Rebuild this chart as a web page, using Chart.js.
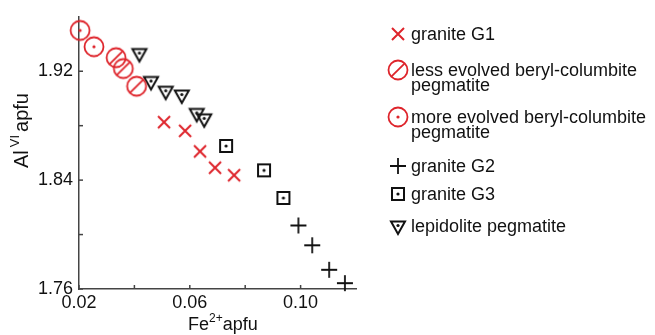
<!DOCTYPE html>
<html>
<head>
<meta charset="utf-8">
<script src="https://cdn.jsdelivr.net/npm/chart.js@4.4.0/dist/chart.umd.min.js"></script>
<style>
  html, body { margin: 0; padding: 0; background: #fff; }
  #wrap { width: 655px; height: 335px; }
</style>
</head>
<body>
<div id="wrap"><canvas id="chart" width="655" height="335"></canvas></div>
<script>
// data
const seriesNames = ['granite G1', 'less evolved beryl-columbite|pegmatite', 'more evolved beryl-columbite|pegmatite',
                     'granite G2', 'granite G3', 'lepidolite pegmatite'];
const g1Fe = [0.0507, 0.0583, 0.0637, 0.0691, 0.0760];
const g1Al = [1.8826, 1.8762, 1.8611, 1.8491, 1.8436];
const lessFe = [0.0334, 0.0360, 0.0408];
const lessAl = [1.9300, 1.9220, 1.9090];
const moreFe = [0.0204, 0.0254];
const moreAl = [1.9500, 1.9380];
const g2Fe = [0.0992, 0.1042, 0.1103, 0.1160];
const g2Al = [1.8067, 1.7921, 1.7741, 1.7643];
const g3Fe = [0.0731, 0.0868, 0.0938];
const g3Al = [1.8651, 1.8472, 1.8269];
const lepFe = [0.0418, 0.0460, 0.0513, 0.0571, 0.0625, 0.0652];
const lepAl = [1.9330, 1.9125, 1.9053, 1.9025, 1.8890, 1.8850];

const xTicks = [0.02, 0.04, 0.06, 0.08, 0.10];
const xLabels = [0.02, 0.06, 0.10];
const yTicks = [1.76, 1.80, 1.84, 1.88, 1.92];
const yLabels = [1.76, 1.84, 1.92];

const RED = '#de242b';
const BLACK = '#111';
const AXIS = '#444';
const FONT = '"Liberation Sans", Arial, sans-serif';

// marker images
function makeMarker(kind) {
    const c = document.createElement('canvas');
    c.width = 24; c.height = 24;
    const g = c.getContext('2d');
    const m = 12;
    g.lineWidth = 2;
    if (kind === 'x') {
        g.strokeStyle = RED;
        g.beginPath();
        g.moveTo(m - 6, m - 6); g.lineTo(m + 6, m + 6);
        g.moveTo(m + 6, m - 6); g.lineTo(m - 6, m + 6);
        g.stroke();
    } else if (kind === 'slash' || kind === 'odot') {
        g.strokeStyle = RED;
        g.fillStyle = RED;
        g.lineWidth = 1.8;
        g.beginPath();
        g.arc(m, m, 9.5, 0, Math.PI * 2);
        g.stroke();
        if (kind === 'slash') {
            g.beginPath();
            g.moveTo(m - 6.7, m + 6.7); g.lineTo(m + 6.7, m - 6.7);
            g.stroke();
        } else {
            g.beginPath();
            g.arc(m, m, 1.6, 0, Math.PI * 2);
            g.fill();
        }
    } else if (kind === 'plus') {
        g.strokeStyle = BLACK;
        g.lineWidth = 1.8;
        g.beginPath();
        g.moveTo(m - 8, m); g.lineTo(m + 8, m);
        g.moveTo(m, m - 8); g.lineTo(m, m + 8);
        g.stroke();
    } else if (kind === 'square') {
        g.strokeStyle = BLACK;
        g.fillStyle = BLACK;
        g.strokeRect(m - 6, m - 6, 12, 12);
        g.beginPath();
        g.arc(m, m, 1.6, 0, Math.PI * 2);
        g.fill();
    } else if (kind === 'tri') {
        g.strokeStyle = BLACK;
        g.fillStyle = BLACK;
        g.lineJoin = 'miter';
        g.beginPath();
        g.moveTo(m - 7, m - 4.5);
        g.lineTo(m + 7, m - 4.5);
        g.lineTo(m, m + 8);
        g.closePath();
        g.stroke();
        g.beginPath();
        g.arc(m, m - 0.5, 1.6, 0, Math.PI * 2);
        g.fill();
    }
    return c;
}

const markers = ['x', 'slash', 'odot', 'plus', 'square', 'tri'].map(makeMarker);

function pts(xs, ys) {
    return xs.map((x, i) => ({ x: x, y: ys[i] }));
}

const seriesData = [
    pts(g1Fe, g1Al), pts(lessFe, lessAl), pts(moreFe, moreAl),
    pts(g2Fe, g2Al), pts(g3Fe, g3Al), pts(lepFe, lepAl)
];

// axis ticks pointing inward, axis titles and the legend
const decorPlugin = {
    id: 'decor',
    afterDraw(chart) {
        const ctx = chart.ctx;
        const xs = chart.scales.x, ys = chart.scales.y;
        const a = chart.chartArea;
        ctx.save();
        ctx.strokeStyle = AXIS;
        ctx.lineWidth = 1.5;
        xTicks.forEach(v => {
            const px = xs.getPixelForValue(v);
            ctx.beginPath();
            ctx.moveTo(px, a.bottom);
            ctx.lineTo(px, a.bottom - 4);
            ctx.stroke();
        });
        yTicks.forEach(v => {
            const py = ys.getPixelForValue(v);
            ctx.beginPath();
            ctx.moveTo(a.left, py);
            ctx.lineTo(a.left + 4, py);
            ctx.stroke();
        });

        // x title: Fe2+apfu
        ctx.fillStyle = BLACK;
        ctx.textBaseline = 'alphabetic';
        ctx.textAlign = 'left';
        let tx = 188, ty = 330;
        ctx.font = '18px ' + FONT;
        ctx.fillText('Fe', tx, ty);
        tx += ctx.measureText('Fe').width;
        ctx.font = '12px ' + FONT;
        ctx.fillText('2+', tx, ty - 8);
        tx += ctx.measureText('2+').width;
        ctx.font = '18px ' + FONT;
        ctx.fillText('apfu', tx, ty);

        // y title: AlVI apfu (rotated)
        ctx.save();
        ctx.translate(28, 168);
        ctx.rotate(-Math.PI / 2);
        let ux = 0;
        ctx.font = '20px ' + FONT;
        ctx.fillText('Al', ux, 0);
        ux += ctx.measureText('Al').width + 3;
        ctx.font = '13px ' + FONT;
        ctx.fillText('VI', ux, -9);
        ux += ctx.measureText('VI').width + 3;
        ctx.font = '20px ' + FONT;
        ctx.fillText('apfu', ux, 0);
        ctx.restore();

        // legend
        const rowY = [34, 70, 117, 166, 194, 226];
        ctx.font = '18px ' + FONT;
        ctx.textBaseline = 'middle';
        seriesNames.forEach((name, i) => {
            const img = markers[i];
            ctx.drawImage(img, 398 - 12, rowY[i] - 12);
            name.split('|').forEach((line, j) => {
                ctx.fillText(line, 411, rowY[i] + 1 + j * 15);
            });
        });
        ctx.restore();
    }
};

new Chart(document.getElementById('chart').getContext('2d'), {
    type: 'scatter',
    data: {
        datasets: seriesData.map((d, i) => ({
            label: seriesNames[i],
            data: d,
            pointStyle: markers[i],
            pointRadius: 10,
            clip: false
        }))
    },
    options: {
        responsive: false,
        animation: false,
        devicePixelRatio: 1,
        layout: { padding: { left: 0, right: 299, top: 11, bottom: 0 } },
        plugins: { legend: { display: false }, tooltip: { enabled: false } },
        scales: {
            x: {
                type: 'linear',
                min: 0.02,
                max: 0.12,
                afterFit: s => { s.height = 46; },
                afterBuildTicks: s => { s.ticks = xLabels.map(v => ({ value: v })); },
                grid: { display: false, drawTicks: false },
                border: { display: true, color: AXIS, width: 1.5 },
                ticks: {
                    padding: 3,
                    color: BLACK,
                    font: { family: FONT, size: 18 },
                    callback: v => v.toFixed(2)
                }
            },
            y: {
                type: 'linear',
                min: 1.76,
                max: 1.96,
                afterFit: s => { s.width = 79; },
                afterBuildTicks: s => { s.ticks = yLabels.map(v => ({ value: v })); },
                grid: { display: false, drawTicks: false },
                border: { display: true, color: AXIS, width: 1.5 },
                ticks: {
                    padding: 6,
                    color: BLACK,
                    font: { family: FONT, size: 18 },
                    callback: v => v.toFixed(2)
                }
            }
        }
    },
    plugins: [decorPlugin]
});
</script>
</body>
</html>
